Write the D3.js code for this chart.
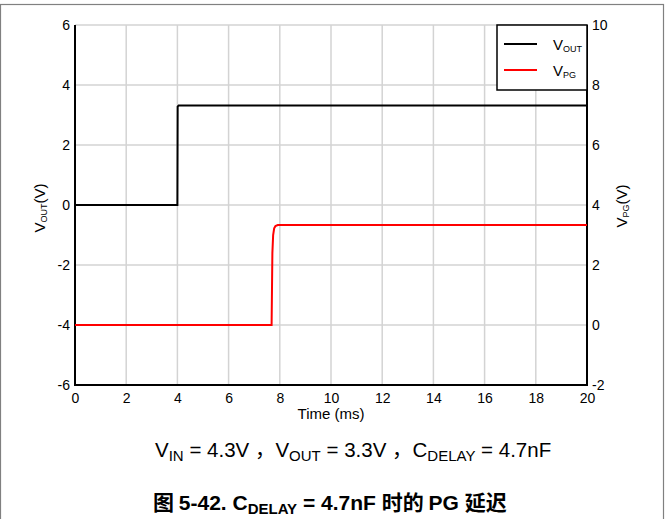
<!DOCTYPE html>
<html><head><meta charset="utf-8">
<script src="https://cdn.jsdelivr.net/npm/d3@7/dist/d3.min.js"></script>
<style>
body{margin:0;background:#fff;}
text{font-family:"Liberation Sans",Arial,sans-serif;}
</style></head>
<body><svg id="c" width="668" height="519"></svg>
<script>
const xTicks=[0,2,4,6,8,10,12,14,16,18,20];
const leftTicks=[-6,-4,-2,0,2,4,6];
const rightTicks=[-2,0,2,4,6,8,10];
const voutTime=[0,4.0,4.01,4.05,20];
const voutVal=[0,0,3.28,3.32,3.32];
const vpgTime=[0,7.68,7.71,7.74,7.78,7.83,7.92,20];
const vpgVal=[0,0,2.4,3.0,3.22,3.3,3.33,3.33];

const svg=d3.select("#c");
const L=75,R=587,T=25,B=385;
const x=d3.scaleLinear().domain([0,20]).range([L,R]);
const yl=d3.scaleLinear().domain([-6,6]).range([B,T]);
const yr=d3.scaleLinear().domain([-2,10]).range([B,T]);
const fmt=d=>String(d);

// frame
svg.append("rect").attr("x",0.5).attr("y",4.5).attr("width",663).attr("height",530)
  .attr("fill","none").attr("stroke","#808080").attr("stroke-width",1.2);

// grid
const g=svg.append("g");
g.selectAll(".vx").data(xTicks).join("line").attr("x1",d=>x(d)).attr("x2",d=>x(d))
  .attr("y1",T).attr("y2",B).attr("stroke","#d3d3d3").attr("stroke-width",1.5);
g.selectAll(".hy").data(leftTicks).join("line").attr("y1",d=>yl(d)).attr("y2",d=>yl(d))
  .attr("x1",L).attr("x2",R).attr("stroke","#d3d3d3").attr("stroke-width",1.5);

// axes
const ax=d3.axisBottom(x).tickValues(xTicks).tickFormat(fmt).tickSize(0).tickPadding(8);
const axG=svg.append("g").attr("transform",`translate(0,${B})`).call(ax);
const ayl=d3.axisLeft(yl).tickValues(leftTicks).tickFormat(fmt).tickSize(0).tickPadding(5);
const aylG=svg.append("g").attr("transform",`translate(${L},0)`).call(ayl);
const ayr=d3.axisRight(yr).tickValues(rightTicks).tickFormat(fmt).tickSize(0).tickPadding(5);
const ayrG=svg.append("g").attr("transform",`translate(${R},0)`).call(ayr);
[axG,aylG,ayrG].forEach(a=>{
  a.select(".domain").remove();
  a.selectAll("text").attr("font-size",14).attr("fill","#000").attr("font-family","Liberation Sans, Arial, sans-serif");
});
svg.append("line").attr("x1",L).attr("x2",L).attr("y1",T).attr("y2",B+1).attr("stroke","#000").attr("stroke-width",2);
svg.append("line").attr("x1",R).attr("x2",R).attr("y1",T).attr("y2",B+1).attr("stroke","#000").attr("stroke-width",2);
svg.append("line").attr("x1",L-1).attr("x2",R+1).attr("y1",B).attr("y2",B).attr("stroke","#000").attr("stroke-width",2);

// lines
const lv=d3.line().x((d,i)=>x(voutTime[i])).y(d=>yl(d));
svg.append("path").attr("d",lv(voutVal)).attr("fill","none").attr("stroke","#000").attr("stroke-width",2);
const lp=d3.line().x((d,i)=>x(vpgTime[i])).y(d=>yr(d));
svg.append("path").attr("d",lp(vpgVal)).attr("fill","none").attr("stroke","#ff0000").attr("stroke-width",2);

// legend
svg.append("rect").attr("x",497).attr("y",25).attr("width",90).attr("height",65)
  .attr("fill","#fff").attr("stroke","#000").attr("stroke-width",1.5);
const leg=[{n:"OUT",c:"#000",y:44},{n:"PG",c:"#ff0000",y:70}];
leg.forEach(d=>{
  svg.append("line").attr("x1",504).attr("x2",537).attr("y1",d.y).attr("y2",d.y).attr("stroke",d.c).attr("stroke-width",2);
  const t=svg.append("text").attr("x",553).attr("y",d.y+6).attr("font-size",15);
  t.append("tspan").text("V");
  t.append("tspan").attr("font-size",9).attr("dy",2).text(d.n);
});

// axis titles
svg.append("text").attr("x",331).attr("y",419).attr("text-anchor","middle").attr("font-size",15).text("Time (ms)");
const tl=svg.append("text").attr("transform","translate(45,208) rotate(-90)").attr("text-anchor","middle").attr("font-size",15);
tl.append("tspan").text("V");tl.append("tspan").attr("font-size",9).attr("dy",2).text("OUT");tl.append("tspan").attr("dy",-2).text("(V)");
const tr=svg.append("text").attr("transform","translate(627,206) rotate(-90)").attr("text-anchor","middle").attr("font-size",15);
tr.append("tspan").text("V");tr.append("tspan").attr("font-size",9).attr("dy",2).text("PG");tr.append("tspan").attr("dy",-2).text("(V)");

// subtitle
const st=svg.append("text").attr("x",155).attr("y",457).attr("font-size",20.5);
st.append("tspan").text("V");
st.append("tspan").attr("font-size",15).attr("dy",4).text("IN");
st.append("tspan").attr("dy",-4).text(" = 4.3V ");
st.append("tspan").attr("font-family","Noto Sans CJK SC").text("，");
st.append("tspan").text("V");
st.append("tspan").attr("font-size",15).attr("dy",4).text("OUT");
st.append("tspan").attr("dy",-4).text(" = 3.3V ");
st.append("tspan").attr("font-family","Noto Sans CJK SC").text("，");
st.append("tspan").text("C");
st.append("tspan").attr("font-size",15).attr("dy",4).text("DELAY");
st.append("tspan").attr("dy",-4).text(" = 4.7nF");

// caption
const cp=svg.append("text").attr("x",153).attr("y",510).attr("font-size",21).attr("font-weight","bold");
cp.append("tspan").attr("font-family","Noto Sans CJK SC").text("图 ");
cp.append("tspan").text("5-42. C");
cp.append("tspan").attr("font-size",15).attr("dy",4).text("DELAY");
cp.append("tspan").attr("dy",-4).text(" = 4.7nF ");
cp.append("tspan").attr("font-family","Noto Sans CJK SC").text("时的 ");
cp.append("tspan").text("PG ");
cp.append("tspan").attr("font-family","Noto Sans CJK SC").text("延迟");
</script></body></html>
